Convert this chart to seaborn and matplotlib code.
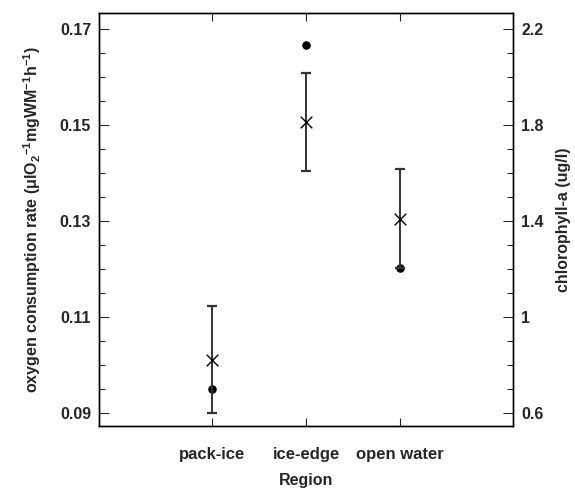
import matplotlib.pyplot as plt
import seaborn as sns
import pandas as pd
import numpy as np
from matplotlib.ticker import MultipleLocator

## data
regions = ['pack-ice', 'ice-edge', 'open water']
oxygen_rate = [0.1012, 0.1506, 0.1305]
oxygen_err = [0.0111, 0.0102, 0.0103]
chlorophyll = [0.70, 2.135, 1.205]

df = pd.DataFrame({'region': regions, 'pos': [1, 2, 3],
                   'oxygen': oxygen_rate, 'err': oxygen_err, 'chl': chlorophyll})

sns.set_theme(style='ticks')
plt.rcParams['font.family'] = ['Liberation Sans', 'DejaVu Sans']
plt.rcParams['mathtext.fontset'] = 'custom'
plt.rcParams['mathtext.rm'] = 'Liberation Sans:bold'
plt.rcParams['mathtext.it'] = 'Liberation Sans:bold'
plt.rcParams['mathtext.bf'] = 'Liberation Sans:bold'

fig = plt.figure(figsize=(5.75, 4.88), dpi=100)
ax = fig.add_axes([0.173, 0.127, 0.719, 0.847])
ax2 = ax.twinx()

## chlorophyll dots (right axis)
sns.scatterplot(data=df, x='pos', y='chl', ax=ax2, color='black', marker='o',
                s=38, edgecolor='black', linewidth=0, zorder=3)

## oxygen consumption with error bars (left axis)
ax.errorbar(df['pos'], df['oxygen'], yerr=df['err'], fmt='none', ecolor='#333333',
            elinewidth=1.4, capsize=3.5, capthick=1.6, zorder=2)
sns.scatterplot(data=df, x='pos', y='oxygen', ax=ax, color='black', marker='x',
                s=70, linewidth=1.0, zorder=4)
ax.set_zorder(ax2.get_zorder() + 1)
ax.patch.set_visible(False)

ax.set_xlim(-0.2, 4.2)
ax.set_ylim(0.08735, 0.17346)
ax2.set_ylim(20 * 0.08735 - 1.2, 20 * 0.17346 - 1.2)

ax.set_xticks(df['pos'])
ax.set_xticklabels(regions, fontsize=12, fontweight='bold')
ax.set_yticks([0.09, 0.11, 0.13, 0.15, 0.17])
ax.set_yticklabels(['0.09', '0.11', '0.13', '0.15', '0.17'], fontsize=11.5, fontweight='bold')
ax.yaxis.set_minor_locator(MultipleLocator(0.005))
ax2.set_yticks([0.6, 1.0, 1.4, 1.8, 2.2])
ax2.set_yticklabels(['0.6', '1', '1.4', '1.8', '2.2'], fontsize=11.5, fontweight='bold')
ax2.yaxis.set_minor_locator(MultipleLocator(0.1))

ax.tick_params(axis='x', which='both', direction='in', top=True, length=6, width=0.8, pad=15)
ax.tick_params(axis='y', which='major', direction='in', length=7, width=0.8, right=False, pad=6)
ax.tick_params(axis='y', which='minor', direction='in', length=4, width=0.8, right=False)
ax2.tick_params(axis='y', which='major', direction='in', length=7, width=0.8, pad=6)
ax2.tick_params(axis='y', which='minor', direction='in', length=4, width=0.8)

for a in (ax, ax2):
    for sp in a.spines.values():
        sp.set_visible(True)
        sp.set_linewidth(1.0)
        sp.set_color('black')

ax.set_xlabel('Region', fontsize=11.5, fontweight='bold', labelpad=8)
ax.set_ylabel('oxygen consumption rate ($\\mu$lO$_2$$^{-1}$mgWM$^{-1}$h$^{-1}$)',
              fontsize=11.5, fontweight='bold', labelpad=12)
ax2.set_ylabel('chlorophyll-a (ug/l)', fontsize=11.5, fontweight='bold', labelpad=9)

fig.savefig('out.png', dpi=100)
